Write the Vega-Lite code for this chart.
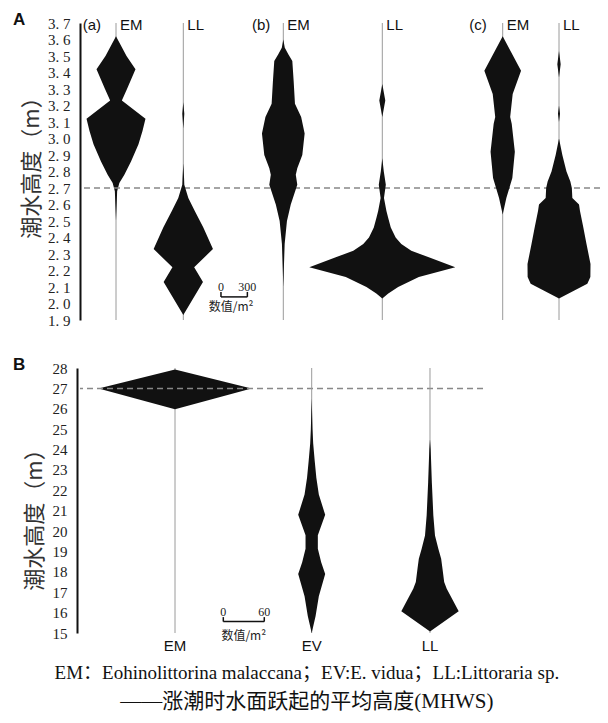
{
  "$schema": "https://vega.github.io/schema/vega-lite/v6.json",
  "background": "white",
  "padding": {"left": 13, "top": 11, "right": 0, "bottom": 0},
  "spacing": 28,
  "config": {"view": {"stroke": null}, "axis": {"grid": false, "labelOverlap": false, "labelFlush": false, "ticks": false}},
  "title": {
    "text": "EM：Eohinolittorina malaccana；EV:E. vidua；LL:Littoraria sp.",
    "subtitle": "——涨潮时水面跃起的平均高度(MHWS)",
    "orient": "bottom", "anchor": "middle", "offset": 10,
    "font": "Liberation Serif, Noto Sans CJK SC", "fontSize": 19, "fontWeight": "normal", "color": "#111",
    "subtitleFont": "Liberation Serif, Noto Sans CJK SC", "subtitleFontSize": 21, "subtitleColor": "#111", "subtitlePadding": 8
  },
  "datasets": {
    "kites": [
      {"p":"A","k":"aEM","h":3.62,"d":0},{"p":"A","k":"aEM","h":3.5,"d":239},{"p":"A","k":"aEM","h":3.42,"d":443},{"p":"A","k":"aEM","h":3.3,"d":250},{"p":"A","k":"aEM","h":3.23,"d":133},{"p":"A","k":"aEM","h":3.12,"d":670},{"p":"A","k":"aEM","h":3.045,"d":602},{"p":"A","k":"aEM","h":2.965,"d":511},{"p":"A","k":"aEM","h":2.86,"d":341},{"p":"A","k":"aEM","h":2.78,"d":190},{"p":"A","k":"aEM","h":2.73,"d":76},{"p":"A","k":"aEM","h":2.68,"d":26},{"p":"A","k":"aEM","h":2.6,"d":15},{"p":"A","k":"aEM","h":2.5,"d":0},
      {"p":"A","k":"aLL","h":3.22,"d":0},{"p":"A","k":"aLL","h":3.15,"d":23},{"p":"A","k":"aLL","h":3.06,"d":0},{"p":"A","k":"aLL","h":2.85,"d":0},{"p":"A","k":"aLL","h":2.76,"d":17},{"p":"A","k":"aLL","h":2.72,"d":23},{"p":"A","k":"aLL","h":2.64,"d":114},{"p":"A","k":"aLL","h":2.56,"d":261},{"p":"A","k":"aLL","h":2.46,"d":455},{"p":"A","k":"aLL","h":2.33,"d":674},{"p":"A","k":"aLL","h":2.22,"d":247},{"p":"A","k":"aLL","h":2.13,"d":447},{"p":"A","k":"aLL","h":1.93,"d":0},
      {"p":"A","k":"bEM","h":3.6,"d":0},{"p":"A","k":"bEM","h":3.55,"d":34},{"p":"A","k":"bEM","h":3.51,"d":114},{"p":"A","k":"bEM","h":3.47,"d":205},{"p":"A","k":"bEM","h":3.35,"d":235},{"p":"A","k":"bEM","h":3.21,"d":265},{"p":"A","k":"bEM","h":3.13,"d":406},{"p":"A","k":"bEM","h":3.03,"d":485},{"p":"A","k":"bEM","h":2.9,"d":432},{"p":"A","k":"bEM","h":2.82,"d":318},{"p":"A","k":"bEM","h":2.78,"d":284},{"p":"A","k":"bEM","h":2.72,"d":318},{"p":"A","k":"bEM","h":2.6,"d":170},{"p":"A","k":"bEM","h":2.5,"d":83},{"p":"A","k":"bEM","h":2.36,"d":31},{"p":"A","k":"bEM","h":2.2,"d":11},{"p":"A","k":"bEM","h":2.1,"d":0},
      {"p":"A","k":"bLL","h":3.33,"d":0},{"p":"A","k":"bLL","h":3.23,"d":68},{"p":"A","k":"bLL","h":3.13,"d":0},{"p":"A","k":"bLL","h":2.88,"d":0},{"p":"A","k":"bLL","h":2.8,"d":34},{"p":"A","k":"bLL","h":2.72,"d":80},{"p":"A","k":"bLL","h":2.64,"d":38},{"p":"A","k":"bLL","h":2.56,"d":94},{"p":"A","k":"bLL","h":2.52,"d":133},{"p":"A","k":"bLL","h":2.46,"d":193},{"p":"A","k":"bLL","h":2.4,"d":303},{"p":"A","k":"bLL","h":2.36,"d":432},{"p":"A","k":"bLL","h":2.32,"d":659},{"p":"A","k":"bLL","h":2.28,"d":1057},{"p":"A","k":"bLL","h":2.22,"d":1659},{"p":"A","k":"bLL","h":2.16,"d":830},{"p":"A","k":"bLL","h":2.1,"d":360},{"p":"A","k":"bLL","h":2.06,"d":136},{"p":"A","k":"bLL","h":2.03,"d":0},
      {"p":"A","k":"cEM","h":3.62,"d":0},{"p":"A","k":"cEM","h":3.41,"d":417},{"p":"A","k":"cEM","h":3.27,"d":227},{"p":"A","k":"cEM","h":3.13,"d":170},{"p":"A","k":"cEM","h":3.09,"d":205},{"p":"A","k":"cEM","h":2.92,"d":276},{"p":"A","k":"cEM","h":2.76,"d":219},{"p":"A","k":"cEM","h":2.7,"d":151},{"p":"A","k":"cEM","h":2.64,"d":83},{"p":"A","k":"cEM","h":2.54,"d":0},
      {"p":"A","k":"cLL","h":3.53,"d":0},{"p":"A","k":"cLL","h":3.45,"d":38},{"p":"A","k":"cLL","h":3.37,"d":0},{"p":"A","k":"cLL","h":3.2,"d":0},{"p":"A","k":"cLL","h":3.15,"d":23},{"p":"A","k":"cLL","h":3.1,"d":0},{"p":"A","k":"cLL","h":3.0,"d":0},{"p":"A","k":"cLL","h":2.9,"d":76},{"p":"A","k":"cLL","h":2.8,"d":170},{"p":"A","k":"cLL","h":2.74,"d":258},{"p":"A","k":"cLL","h":2.7,"d":292},{"p":"A","k":"cLL","h":2.64,"d":303},{"p":"A","k":"cLL","h":2.6,"d":455},{"p":"A","k":"cLL","h":2.56,"d":477},{"p":"A","k":"cLL","h":2.46,"d":553},{"p":"A","k":"cLL","h":2.36,"d":625},{"p":"A","k":"cLL","h":2.24,"d":716},{"p":"A","k":"cLL","h":2.16,"d":713},{"p":"A","k":"cLL","h":2.12,"d":644},{"p":"A","k":"cLL","h":2.08,"d":360},{"p":"A","k":"cLL","h":2.03,"d":0},
      {"p":"B","k":"EM","h":27.93,"d":0},{"p":"B","k":"EM","h":27.0,"d":224},{"p":"B","k":"EM","h":25.98,"d":0},
      {"p":"B","k":"EV","h":26.5,"d":0},{"p":"B","k":"EV","h":25,"d":2.5},{"p":"B","k":"EV","h":24.3,"d":4.4},{"p":"B","k":"EV","h":23.45,"d":8.8},{"p":"B","k":"EV","h":22.62,"d":13.6},{"p":"B","k":"EV","h":21.79,"d":20.9},{"p":"B","k":"EV","h":20.8,"d":39.5},{"p":"B","k":"EV","h":19.8,"d":18},{"p":"B","k":"EV","h":19.13,"d":18},{"p":"B","k":"EV","h":18.47,"d":27.8},{"p":"B","k":"EV","h":17.9,"d":39.5},{"p":"B","k":"EV","h":16.8,"d":20.9},{"p":"B","k":"EV","h":15.82,"d":11.3},{"p":"B","k":"EV","h":15.0,"d":0},
      {"p":"B","k":"LL","h":24.5,"d":0},{"p":"B","k":"LL","h":24.03,"d":2},{"p":"B","k":"LL","h":22.4,"d":5.4},{"p":"B","k":"LL","h":20.76,"d":9.8},{"p":"B","k":"LL","h":19.78,"d":14.6},{"p":"B","k":"LL","h":19.13,"d":24.4},{"p":"B","k":"LL","h":18.64,"d":32.7},{"p":"B","k":"LL","h":18.15,"d":36.6},{"p":"B","k":"LL","h":17.5,"d":41.5},{"p":"B","k":"LL","h":17.17,"d":49},{"p":"B","k":"LL","h":16.07,"d":84},{"p":"B","k":"LL","h":15.07,"d":0}
    ]
  },
  "vconcat": [
    {
      "width": 520, "height": 297,
      "title": {"text": "A", "anchor": "start", "frame": "group", "orient": "top", "offset": 0, "dx": -67, "dy": 13, "fontSize": 17, "font": "Liberation Sans", "fontWeight": "bold", "color": "#111", "baseline": "top"},
      "data": {"name": "kites"},
      "transform": [{"filter": "datum.p == 'A'"}, {"stack": "d", "groupby": ["k", "h"], "offset": "center", "as": ["x0", "x1"]}],
      "resolve": {"scale": {"x": "independent"}},
      "layer": [
        {"mark": {"type": "rule", "strokeOpacity": 0},
         "encoding": {"y": {"field": "h", "type": "quantitative", "scale": {"domain": [1.9, 3.7], "nice": false, "zero": false},
           "axis": {"orient": "left", "values": [1.9,2.0,2.1,2.2,2.3,2.4,2.5,2.6,2.7,2.8,2.9,3.0,3.1,3.2,3.3,3.4,3.5,3.6,3.7], "tickCount": 40, "labelExpr": "replace(format(datum.value,'.1f'),'.','. ')", "ticks": false, "domain": true, "domainColor": "#111", "domainWidth": 2, "labels": true, "labelFont": "Liberation Serif", "labelFontSize": 15, "labelColor": "#222", "labelPadding": 10, "labelOverlap": false, "labelFlush": false, "title": "潮水高度（m）", "titleFont": "Noto Sans CJK SC", "titleFontSize": 22, "titleFontWeight": "normal", "titleColor": "#333", "titlePadding": 4, "titleY": 139}}}},
        {"layer": [
          {"data": {"values": [{}]}, "mark": {"type": "rule", "color": "#9a9a9a", "strokeWidth": 1}, "encoding": {"x": {"datum": 829.5, "axis": null}}},
          {"transform": [{"filter": "datum.k == 'aEM'"}], "mark": {"type": "area", "orient": "horizontal", "color": "#111"},
           "encoding": {
             "x": {"field": "x0", "type": "quantitative", "scale": {"domain": [420.4, 6329.5], "nice": false, "zero": false}, "axis": null},
             "x2": {"field": "x1"},
             "y": {"field": "h", "type": "quantitative", "scale": {"domain": [1.9, 3.7], "nice": false, "zero": false}}
           }},
          {"data": {"values": [{}]}, "mark": {"type": "rule", "color": "#888", "strokeWidth": 1.5, "strokeDash": [6, 4]}, "encoding": {"y": {"datum": 2.7}}},
          {"data": {"values": [{}]}, "mark": {"type": "text", "text": "EM", "align": "left", "baseline": "middle", "dx": 4, "dy": 2, "font": "Liberation Sans", "fontSize": 15, "color": "#111"}, "encoding": {"x": {"datum": 829.5, "axis": null}, "y": {"datum": 3.7}}},
          {"data": {"values": [{}]}, "mark": {"type": "text", "text": "(a)", "align": "right", "baseline": "middle", "dx": -15, "dy": 2, "font": "Liberation Sans", "fontSize": 15, "color": "#111"}, "encoding": {"x": {"datum": 829.5, "axis": null}, "y": {"datum": 3.7}}}
        ]},
        {"layer": [
          {"data": {"values": [{}]}, "mark": {"type": "rule", "color": "#9a9a9a", "strokeWidth": 1}, "encoding": {"x": {"datum": 829.5, "axis": null}}},
          {"transform": [{"filter": "datum.k == 'aLL'"}], "mark": {"type": "area", "orient": "horizontal", "color": "#111"},
           "encoding": {
             "x": {"field": "x0", "type": "quantitative", "scale": {"domain": [-344.4, 5564.7], "nice": false, "zero": false}, "axis": null},
             "x2": {"field": "x1"},
             "y": {"field": "h", "type": "quantitative", "scale": {"domain": [1.9, 3.7], "nice": false, "zero": false}}
           }},
          {"data": {"values": [{}]}, "mark": {"type": "text", "text": "LL", "align": "left", "baseline": "middle", "dx": 4, "dy": 2, "font": "Liberation Sans", "fontSize": 15, "color": "#111"}, "encoding": {"x": {"datum": 829.5, "axis": null}, "y": {"datum": 3.7}}},
          {"data": {"values": [{}]}, "mark": {"type": "rule", "color": "#111", "strokeWidth": 1.5}, "encoding": {"x": {"datum": 1257.5, "axis": null}, "x2": {"datum": 1557.5}, "y": {"datum": 2.04}}},
          {"data": {"values": [{}]}, "mark": {"type": "rule", "color": "#111", "strokeWidth": 1.5}, "encoding": {"x": {"datum": 1257.5, "axis": null}, "y": {"datum": 2.04}, "y2": {"datum": 2.07}}},
          {"data": {"values": [{}]}, "mark": {"type": "rule", "color": "#111", "strokeWidth": 1.5}, "encoding": {"x": {"datum": 1557.5, "axis": null}, "y": {"datum": 2.04}, "y2": {"datum": 2.07}}},
          {"data": {"values": [{}]}, "mark": {"type": "text", "text": "0", "align": "center", "baseline": "middle", "font": "Liberation Serif", "fontSize": 12, "color": "#222"}, "encoding": {"x": {"datum": 1257.5, "axis": null}, "y": {"datum": 2.1}}},
          {"data": {"values": [{}]}, "mark": {"type": "text", "text": "300", "align": "center", "baseline": "middle", "font": "Liberation Serif", "fontSize": 12, "color": "#222"}, "encoding": {"x": {"datum": 1557.5, "axis": null}, "y": {"datum": 2.1}}},
          {"data": {"values": [{}]}, "mark": {"type": "text", "text": "数值/m²", "align": "center", "baseline": "middle", "dx": -3, "font": "Noto Sans CJK SC", "fontSize": 12, "color": "#222"}, "encoding": {"x": {"datum": 1407.5, "axis": null}, "y": {"datum": 1.98}}}
        ]},
        {"layer": [
          {"data": {"values": [{}]}, "mark": {"type": "rule", "color": "#9a9a9a", "strokeWidth": 1}, "encoding": {"x": {"datum": 829.5, "axis": null}}},
          {"transform": [{"filter": "datum.k == 'bEM'"}], "mark": {"type": "area", "orient": "horizontal", "color": "#111"},
           "encoding": {
             "x": {"field": "x0", "type": "quantitative", "scale": {"domain": [-1480.7, 4428.4], "nice": false, "zero": false}, "axis": null},
             "x2": {"field": "x1"},
             "y": {"field": "h", "type": "quantitative", "scale": {"domain": [1.9, 3.7], "nice": false, "zero": false}}
           }},
          {"data": {"values": [{}]}, "mark": {"type": "text", "text": "EM", "align": "left", "baseline": "middle", "dx": 4, "dy": 2, "font": "Liberation Sans", "fontSize": 15, "color": "#111"}, "encoding": {"x": {"datum": 829.5, "axis": null}, "y": {"datum": 3.7}}},
          {"data": {"values": [{}]}, "mark": {"type": "text", "text": "(b)", "align": "right", "baseline": "middle", "dx": -13, "dy": 2, "font": "Liberation Sans", "fontSize": 15, "color": "#111"}, "encoding": {"x": {"datum": 829.5, "axis": null}, "y": {"datum": 3.7}}}
        ]},
        {"layer": [
          {"data": {"values": [{}]}, "mark": {"type": "rule", "color": "#9a9a9a", "strokeWidth": 1}, "encoding": {"x": {"datum": 829.5, "axis": null}}},
          {"transform": [{"filter": "datum.k == 'bLL'"}], "mark": {"type": "area", "orient": "horizontal", "color": "#111"},
           "encoding": {
             "x": {"field": "x0", "type": "quantitative", "scale": {"domain": [-2605.7, 3303.4], "nice": false, "zero": false}, "axis": null},
             "x2": {"field": "x1"},
             "y": {"field": "h", "type": "quantitative", "scale": {"domain": [1.9, 3.7], "nice": false, "zero": false}}
           }},
          {"data": {"values": [{}]}, "mark": {"type": "text", "text": "LL", "align": "left", "baseline": "middle", "dx": 4, "dy": 2, "font": "Liberation Sans", "fontSize": 15, "color": "#111"}, "encoding": {"x": {"datum": 829.5, "axis": null}, "y": {"datum": 3.7}}}
        ]},
        {"layer": [
          {"data": {"values": [{}]}, "mark": {"type": "rule", "color": "#9a9a9a", "strokeWidth": 1}, "encoding": {"x": {"datum": 829.5, "axis": null}}},
          {"transform": [{"filter": "datum.k == 'cEM'"}], "mark": {"type": "area", "orient": "horizontal", "color": "#111"},
           "encoding": {
             "x": {"field": "x0", "type": "quantitative", "scale": {"domain": [-3973.9, 1935.2], "nice": false, "zero": false}, "axis": null},
             "x2": {"field": "x1"},
             "y": {"field": "h", "type": "quantitative", "scale": {"domain": [1.9, 3.7], "nice": false, "zero": false}}
           }},
          {"data": {"values": [{}]}, "mark": {"type": "text", "text": "EM", "align": "left", "baseline": "middle", "dx": 4, "dy": 2, "font": "Liberation Sans", "fontSize": 15, "color": "#111"}, "encoding": {"x": {"datum": 829.5, "axis": null}, "y": {"datum": 3.7}}},
          {"data": {"values": [{}]}, "mark": {"type": "text", "text": "(c)", "align": "right", "baseline": "middle", "dx": -16, "dy": 2, "font": "Liberation Sans", "fontSize": 15, "color": "#111"}, "encoding": {"x": {"datum": 829.5, "axis": null}, "y": {"datum": 3.7}}}
        ]},
        {"layer": [
          {"data": {"values": [{}]}, "mark": {"type": "rule", "color": "#9a9a9a", "strokeWidth": 1}, "encoding": {"x": {"datum": 829.5, "axis": null}}},
          {"transform": [{"filter": "datum.k == 'cLL'"}], "mark": {"type": "area", "orient": "horizontal", "color": "#111"},
           "encoding": {
             "x": {"field": "x0", "type": "quantitative", "scale": {"domain": [-4613.7, 1295.4], "nice": false, "zero": false}, "axis": null},
             "x2": {"field": "x1"},
             "y": {"field": "h", "type": "quantitative", "scale": {"domain": [1.9, 3.7], "nice": false, "zero": false}}
           }},
          {"data": {"values": [{}]}, "mark": {"type": "text", "text": "LL", "align": "left", "baseline": "middle", "dx": 4, "dy": 2, "font": "Liberation Sans", "fontSize": 15, "color": "#111"}, "encoding": {"x": {"datum": 829.5, "axis": null}, "y": {"datum": 3.7}}}
        ]}
      ]
    },
    {
      "width": 403, "height": 265,
      "title": {"text": "B", "anchor": "start", "frame": "group", "orient": "top", "offset": 0, "dx": -67, "dy": 13, "fontSize": 17, "font": "Liberation Sans", "fontWeight": "bold", "color": "#111", "baseline": "top"},
      "data": {"name": "kites"},
      "transform": [{"filter": "datum.p == 'B'"}, {"stack": "d", "groupby": ["k", "h"], "offset": "center", "as": ["x0", "x1"]}],
      "resolve": {"scale": {"x": "independent"}},
      "layer": [
        {"mark": {"type": "rule", "strokeOpacity": 0},
         "encoding": {"y": {"field": "h", "type": "quantitative", "scale": {"domain": [15, 28], "nice": false, "zero": false},
           "axis": {"orient": "left", "values": [15,16,17,18,19,20,21,22,23,24,25,26,27,28], "tickCount": 30, "format": "d", "labelExpr": "format(datum.value,'d')", "ticks": false, "offset": 3, "domain": true, "domainColor": "#111", "domainWidth": 2, "labels": true, "labelFont": "Liberation Serif", "labelFontSize": 15, "labelColor": "#222", "labelPadding": 10, "labelOverlap": false, "labelFlush": false, "title": "潮水高度（m）", "titleFont": "Noto Sans CJK SC", "titleFontSize": 22, "titleFontWeight": "normal", "titleColor": "#333", "titlePadding": 6, "titleY": 146}}}},
        {"layer": [
          {"data": {"values": [{}]}, "mark": {"type": "rule", "color": "#9a9a9a", "strokeWidth": 1}, "encoding": {"x": {"datum": 112, "axis": null}}},
          {"transform": [{"filter": "datum.k == 'EM'"}], "mark": {"type": "area", "orient": "horizontal", "color": "#111"},
           "encoding": {
             "x": {"field": "x0", "type": "quantitative", "scale": {"domain": [-27.1, 562.9], "nice": false, "zero": false}, "axis": null},
             "x2": {"field": "x1"},
             "y": {"field": "h", "type": "quantitative", "scale": {"domain": [15, 28], "nice": false, "zero": false}}
           }},
          {"data": {"values": [{}]}, "mark": {"type": "rule", "color": "#888", "strokeWidth": 1.5, "strokeDash": [6, 4]}, "encoding": {"y": {"datum": 27}}},
          {"data": {"values": [{}]}, "mark": {"type": "text", "text": "EM", "align": "center", "baseline": "middle", "dy": 13, "font": "Liberation Sans", "fontSize": 15, "color": "#111"}, "encoding": {"x": {"datum": 112, "axis": null}, "y": {"datum": 15}}},
          {"data": {"values": [{}]}, "mark": {"type": "rule", "color": "#111", "strokeWidth": 1.5}, "encoding": {"x": {"datum": 182.7, "axis": null}, "x2": {"datum": 242.7}, "y": {"datum": 15.56}}},
          {"data": {"values": [{}]}, "mark": {"type": "rule", "color": "#111", "strokeWidth": 1.5}, "encoding": {"x": {"datum": 182.7, "axis": null}, "y": {"datum": 15.56}, "y2": {"datum": 15.78}}},
          {"data": {"values": [{}]}, "mark": {"type": "rule", "color": "#111", "strokeWidth": 1.5}, "encoding": {"x": {"datum": 242.7, "axis": null}, "y": {"datum": 15.56}, "y2": {"datum": 15.78}}},
          {"data": {"values": [{}]}, "mark": {"type": "text", "text": "0", "align": "center", "baseline": "middle", "font": "Liberation Serif", "fontSize": 12, "color": "#222"}, "encoding": {"x": {"datum": 182.7, "axis": null}, "y": {"datum": 16.04}}},
          {"data": {"values": [{}]}, "mark": {"type": "text", "text": "60", "align": "center", "baseline": "middle", "font": "Liberation Serif", "fontSize": 12, "color": "#222"}, "encoding": {"x": {"datum": 242.7, "axis": null}, "y": {"datum": 16.04}}},
          {"data": {"values": [{}]}, "mark": {"type": "text", "text": "数值/m²", "align": "center", "baseline": "middle", "dy": 3, "font": "Noto Sans CJK SC", "fontSize": 12, "color": "#222"}, "encoding": {"x": {"datum": 212.7, "axis": null}, "y": {"datum": 15}}}
        ]},
        {"layer": [
          {"data": {"values": [{}]}, "mark": {"type": "rule", "color": "#9a9a9a", "strokeWidth": 1}, "encoding": {"x": {"datum": 112, "axis": null}}},
          {"transform": [{"filter": "datum.k == 'EV'"}], "mark": {"type": "area", "orient": "horizontal", "color": "#111"},
           "encoding": {
             "x": {"field": "x0", "type": "quantitative", "scale": {"domain": [-227.2, 362.8], "nice": false, "zero": false}, "axis": null},
             "x2": {"field": "x1"},
             "y": {"field": "h", "type": "quantitative", "scale": {"domain": [15, 28], "nice": false, "zero": false}}
           }},
          {"data": {"values": [{}]}, "mark": {"type": "text", "text": "EV", "align": "center", "baseline": "middle", "dy": 13, "font": "Liberation Sans", "fontSize": 15, "color": "#111"}, "encoding": {"x": {"datum": 112, "axis": null}, "y": {"datum": 15}}}
        ]},
        {"layer": [
          {"data": {"values": [{}]}, "mark": {"type": "rule", "color": "#9a9a9a", "strokeWidth": 1}, "encoding": {"x": {"datum": 112, "axis": null}}},
          {"transform": [{"filter": "datum.k == 'LL'"}], "mark": {"type": "area", "orient": "horizontal", "color": "#111"},
           "encoding": {
             "x": {"field": "x0", "type": "quantitative", "scale": {"domain": [-400.4, 189.6], "nice": false, "zero": false}, "axis": null},
             "x2": {"field": "x1"},
             "y": {"field": "h", "type": "quantitative", "scale": {"domain": [15, 28], "nice": false, "zero": false}}
           }},
          {"data": {"values": [{}]}, "mark": {"type": "text", "text": "LL", "align": "center", "baseline": "middle", "dy": 13, "font": "Liberation Sans", "fontSize": 15, "color": "#111"}, "encoding": {"x": {"datum": 112, "axis": null}, "y": {"datum": 15}}}
        ]}
      ]
    }
  ]
}
